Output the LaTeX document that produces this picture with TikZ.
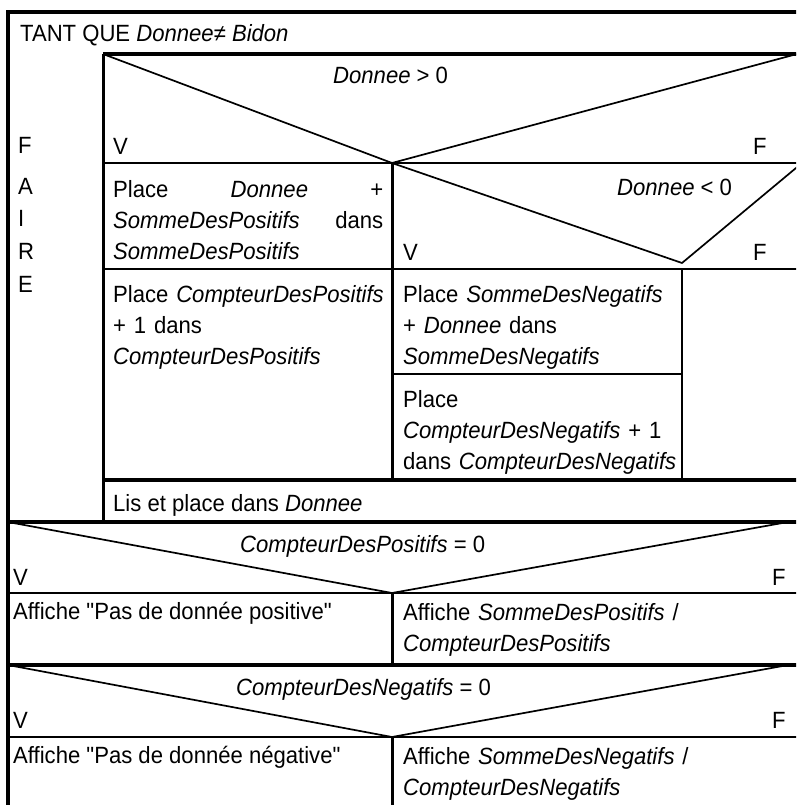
\documentclass[tikz,border=0pt]{standalone}
\usepackage{fontspec}
\setmainfont{Liberation Sans}[FakeStretch=0.94, Ligatures=TeXOff]
\begin{document}
\begin{tikzpicture}[x=1pt,y=-1pt,
  thickline/.style={line width=3.5pt},
  thinline/.style={line width=2.2pt},
  vline/.style={line width=3pt},
  diag/.style={line width=1.7pt},
  lbl/.style={inner sep=0pt, anchor=base west, font=\fontsize{23.5}{31}\selectfont},
  para/.style={lbl, align=left, text width=#1},
]
\useasboundingbox (0,0) rectangle (796,805);
\clip (0,0) rectangle (796,805);
% ---- lines ----
\draw[thickline] (8,815) -- (8,12) -- (810,12);
\draw[thickline] (103,54) -- (810,54);
\draw[vline] (103,54) -- (103,522);
\draw[thinline] (103,163) -- (810,163);
\draw[diag] (103,54) -- (392,163) -- (797,54);
\draw[vline] (392,163) -- (392,480);
\draw[diag] (392,163) -- (682,263) -- (802,163);
\draw[thinline] (103,269) -- (810,269);
\draw[thinline] (682,269) -- (682,480);
\draw[thinline] (392,374) -- (682,374);
\draw[thickline] (103,480) -- (810,480);
\draw[thickline] (8,522) -- (810,522);
\draw[diag] (8,522) -- (392,593) -- (788,522);
\draw[thinline] (8,593) -- (810,593);
\draw[vline] (392,593) -- (392,665);
\draw[thickline] (8,665) -- (810,665);
\draw[diag] (8,665) -- (392,737) -- (788,665);
\draw[thinline] (8,737) -- (810,737);
\draw[vline] (392,737) -- (392,815);
% ---- texts ----
\node[lbl] (tq) at (20,42) {TANT QUE \textit{Donnee}≠ \textit{Bidon}};
\node[lbl] (fa) at (18,154) {F};
\node[lbl] (fb) at (18,194) {A};
\node[lbl] (fc) at (18,226) {I};
\node[lbl] (fd) at (18,259) {R};
\node[lbl] (fe) at (18,292) {E};
\node[lbl] (c1) at (333,84) {\textit{Donnee} > 0};
\node[lbl] (v1) at (113,155) {V};
\node[lbl] (f1) at (753,155) {F};
\node[lbl] (c2) at (617,196) {\textit{Donnee} < 0};
\node[lbl] (v2) at (403,260) {V};
\node[lbl] (f2) at (753,260) {F};
\node[para=270pt] (p1) at (113,197) {Place\hfill\textit{Donnee}\hfill+\\\textit{SommeDesPositifs}\hfill dans\\\textit{SommeDesPositifs}};
\node[para=285pt] (p2) at (113,302) {Place \textit{CompteurDesPositifs}\\+ 1 dans\\\textit{CompteurDesPositifs}};
\node[para=300pt] (p3) at (403,302) {Place \textit{SommeDesNegatifs}\\+ \textit{Donnee} dans\\\textit{SommeDesNegatifs}};
\node[para=300pt] (p4) at (403,407) {Place\\\textit{CompteurDesNegatifs} + 1\\dans \textit{CompteurDesNegatifs}};
\node[lbl] (lis) at (113,511) {Lis et place dans \textit{Donnee}};
\node[lbl] (c3) at (240,552) {\textit{CompteurDesPositifs} = 0};
\node[lbl] (v3) at (13,585) {V};
\node[lbl] (f3) at (772,585) {F};
\node[lbl] (a1) at (13,619) {Affiche "Pas de donnée positive"};
\node[para=380pt] (a2) at (403,620) {Affiche \textit{SommeDesPositifs} /\\\textit{CompteurDesPositifs}};
\node[lbl] (c4) at (236,695) {\textit{CompteurDesNegatifs} = 0};
\node[lbl] (v4) at (13,728) {V};
\node[lbl] (f4) at (772,728) {F};
\node[lbl] (a3) at (13,763) {Affiche "Pas de donnée négative"};
\node[para=380pt] (a4) at (403,764) {Affiche \textit{SommeDesNegatifs} /\\\textit{CompteurDesNegatifs}};
\end{tikzpicture}
\end{document}
